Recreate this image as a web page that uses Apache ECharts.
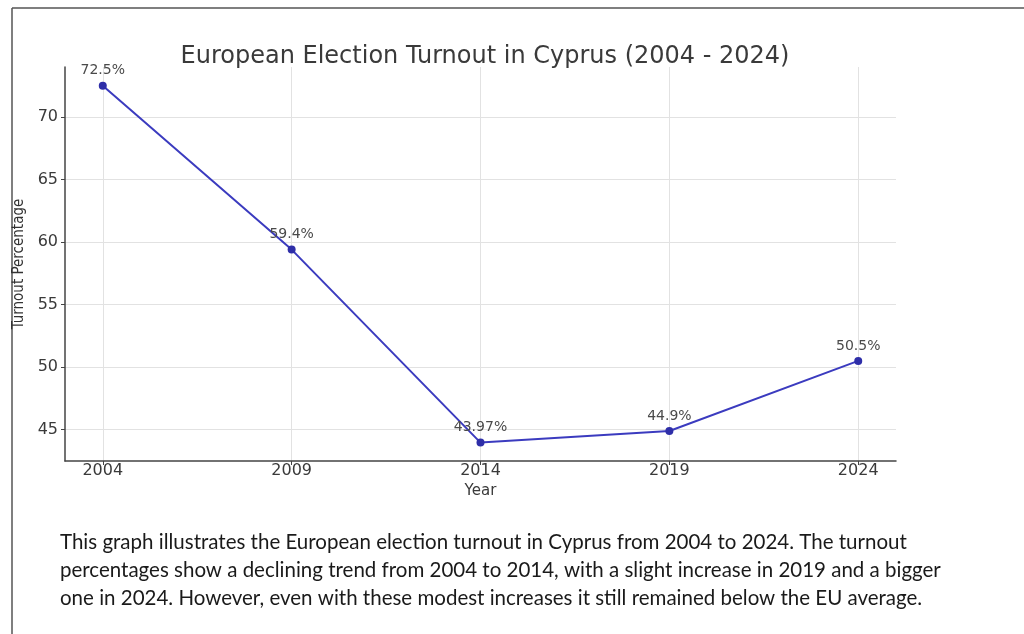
<!DOCTYPE html>
<html>
<head>
<meta charset="utf-8">
<script src="https://cdn.jsdelivr.net/npm/echarts@6/dist/echarts.min.js"></script>
<style>
  html, body { margin: 0; padding: 0; background: #fff; }
  #main { width: 1024px; height: 634px; }
</style>
</head>
<body>
<div id="main"></div>
<script>
var years = [2004, 2009, 2014, 2019, 2024];
var turnout = [72.5, 59.4, 43.97, 44.9, 50.5];
var yTicks = [45, 50, 55, 60, 65, 70];
var caption = [
    'This graph illustrates the European election turnout in Cyprus from 2004 to 2024. The turnout',
    'percentages show a declining trend from 2004 to 2014, with a slight increase in 2019 and a bigger',
    'one in 2024. However, even with these modest increases it still remained below the EU average.'
];

var myChart = echarts.init(document.getElementById('main'));

var gridLines = [];
years.forEach(function (y) { gridLines.push({ xAxis: y }); });
yTicks.forEach(function (v) { gridLines.push({ yAxis: v }); });

option = {
    backgroundColor: '#fff',
    animation: false,
    title: {
        text: 'European Election Turnout in Cyprus (2004 - 2024)',
        left: 480,
        textAlign: 'center',
        top: 40,
        textStyle: {
            fontFamily: 'DejaVu Sans',
            fontSize: 24,
            fontWeight: 'normal',
            color: '#3a3a3a'
        }
    },
    grid: {
        left: 65,
        right: 128,
        top: 67,
        bottom: 173
    },
    xAxis: {
        type: 'value',
        min: 2003,
        max: 2025,
        name: 'Year',
        nameLocation: 'middle',
        nameGap: 21,
        nameTextStyle: { fontFamily: 'DejaVu Sans', fontSize: 15, color: '#3a3a3a' },
        axisLine: { lineStyle: { color: '#444', width: 1.5 } },
        axisTick: { customValues: years, length: 4, lineStyle: { color: '#444' } },
        axisLabel: {
            customValues: years,
            formatter: function (v) { return String(v); },
            fontFamily: 'DejaVu Sans',
            fontSize: 16,
            color: '#3a3a3a',
            margin: 2
        },
        splitLine: { show: false }
    },
    yAxis: {
        type: 'value',
        min: 42.5,
        max: 74,
        name: 'Turnout Percentage',
        nameLocation: 'middle',
        nameGap: 38,
        nameTextStyle: { fontFamily: 'DejaVu Sans Condensed', fontSize: 15, color: '#333' },
        axisLine: { show: true, lineStyle: { color: '#444', width: 1.5 } },
        axisTick: { show: true, customValues: yTicks, length: 4, lineStyle: { color: '#444' } },
        axisLabel: {
            customValues: yTicks,
            fontFamily: 'DejaVu Sans',
            fontSize: 16,
            color: '#3a3a3a',
            margin: 7
        },
        splitLine: { show: false }
    },
    graphic: [
        {
            type: 'line',
            shape: { x1: 12, y1: 8, x2: 1024, y2: 8 },
            style: { stroke: '#555', lineWidth: 1.5 }
        },
        {
            type: 'line',
            shape: { x1: 12, y1: 8, x2: 12, y2: 634 },
            style: { stroke: '#555', lineWidth: 1.5 }
        },
        {
            type: 'text',
            left: 60,
            top: 528,
            style: {
                text: caption.join('\n'),
                fontFamily: 'Lato',
                fontSize: 20.5,
                lineHeight: 28,
                fill: '#1a1a1a'
            }
        }
    ],
    series: [
        {
            name: 'Turnout',
            type: 'line',
            data: years.map(function (y, i) { return [y, turnout[i]]; }),
            symbol: 'circle',
            symbolSize: 8,
            lineStyle: { color: '#3b3bbf', width: 2 },
            itemStyle: { color: '#2e2ea8' },
            label: {
                show: true,
                position: 'top',
                distance: 4,
                formatter: function (p) { return p.value[1] + '%'; },
                fontFamily: 'DejaVu Sans',
                fontSize: 14,
                color: '#4a4a4a'
            },
            markLine: {
                silent: true,
                symbol: 'none',
                label: { show: false },
                lineStyle: { color: '#e2e2e2', type: 'solid', width: 1 },
                data: gridLines,
                z: 0
            }
        }
    ]
};
myChart.setOption(option);
</script>
</body>
</html>
